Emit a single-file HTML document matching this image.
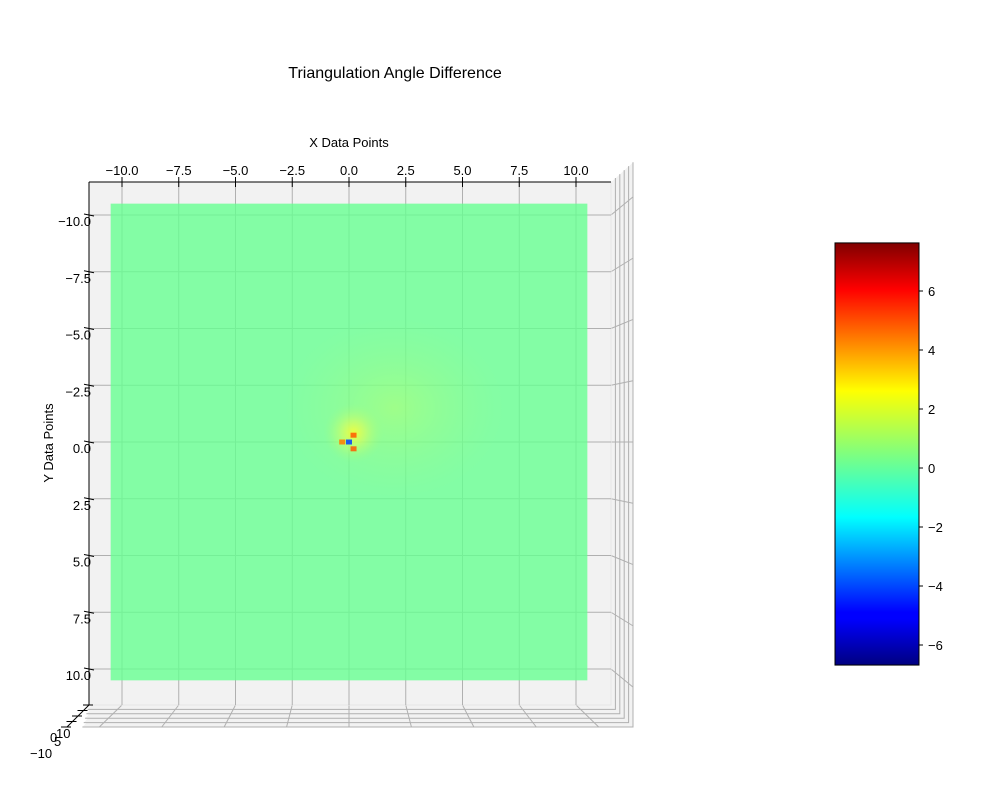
<!DOCTYPE html>
<html><head><meta charset="utf-8"><style>
html,body{margin:0;padding:0;background:#fff;}
svg{display:block;font-family:"Liberation Sans",DejaVu Sans,sans-serif;}
</style></head><body>
<svg id="chart" width="1000" height="800" viewBox="0 0 1000 800">
<defs>
<linearGradient id="jet" x1="0" y1="1" x2="0" y2="0">
<stop offset="0" stop-color="#000080"/><stop offset="0.11" stop-color="#0000ff"/><stop offset="0.125" stop-color="#0000ff"/>
<stop offset="0.35" stop-color="#00ffff"/><stop offset="0.65" stop-color="#ffff00"/><stop offset="0.89" stop-color="#ff0000"/><stop offset="1" stop-color="#800000"/>
</linearGradient>
<radialGradient id="glow"><stop offset="0" stop-color="#ffff30" stop-opacity="0.85"/><stop offset="0.4" stop-color="#e8ff50" stop-opacity="0.5"/><stop offset="1" stop-color="#a0ff80" stop-opacity="0"/></radialGradient>
<radialGradient id="glow2"><stop offset="0" stop-color="#c8ff60" stop-opacity="0.4"/><stop offset="1" stop-color="#a0ff80" stop-opacity="0"/></radialGradient>
</defs>
<text x="395" y="78" font-size="16" text-anchor="middle">Triangulation Angle Difference</text>
<g id="axes"></g>
<g id="cbar"></g>
</svg>
<script>
const xTicks=[-10,-7.5,-5,-2.5,0,2.5,5,7.5,10];
const yTicks=[-10,-7.5,-5,-2.5,0,2.5,5,7.5,10];
const cbTicks=[-6,-4,-2,0,2,4,6];
const cbRange=[-6.68,7.63];
const surfaceExtent=[-10.5,10.5];
const baseValue=0.1;
const hotspotX=[-0.3,0.2,0.2,0];
const hotspotY=[0,-0.3,0.3,0];
const hotspotV=[4.5,5.0,5.0,-4];
const NS="http://www.w3.org/2000/svg";
const X=v=>349+v*22.7, Y=v=>442+v*22.7;
const CB=v=>291-(v-6)*29.5;
function el(t,a,p){const e=document.createElementNS(NS,t);for(const k in a)e.setAttribute(k,a[k]);p.appendChild(e);return e;}
function jet(t){t=Math.max(0,Math.min(1,t));
 const r=t<0.35?0:t<0.66?(t-0.35)/0.31:t<0.89?1:1-(t-0.89)/0.22;
 const g=t<0.125?0:t<0.375?(t-0.125)/0.25:t<0.64?1:t<0.91?1-(t-0.64)/0.27:0;
 const b=t<0.11?0.5+t/0.22:t<0.34?1:t<0.65?1-(t-0.34)/0.31:0;
 return `rgb(${Math.round(r*255)},${Math.round(g*255)},${Math.round(b*255)})`;}
const norm=v=>(v-cbRange[0])/(cbRange[1]-cbRange[0]);
const ax=document.getElementById('axes');
const gc="#b0b0b0";
for(let i=5;i>=1;i--){const o=i*4.4;
 let l=el('polyline',{points:`${611+o},${182-o*0.9} ${611+o},${705+o} ${89-o*0.3},${705+o}`,fill:'#f2f2f2',stroke:gc,'stroke-width':1},ax);
 
 }
xTicks.forEach(v=>{const x=X(v);let l=el('line',{x1:x,y1:705,x2:x+(x-349)*0.1,y2:727,stroke:gc},ax);
 
 });
yTicks.forEach(v=>{const y=Y(v);let l=el('line',{x1:611,y1:y,x2:633,y2:y+(y-442)*0.08,stroke:gc},ax);
 
 });
let pane=el('rect',{x:89,y:182,width:522,height:523,fill:'#f2f2f2',stroke:'#e6e6e6'},ax);


xTicks.forEach(v=>{let l=el('line',{x1:X(v),y1:182,x2:X(v),y2:705,stroke:gc},ax);
 
 });
yTicks.forEach(v=>{let l=el('line',{x1:89,y1:Y(v),x2:611,y2:Y(v),stroke:gc},ax);
 
 });
let s=el('rect',{x:X(surfaceExtent[0]),y:Y(surfaceExtent[0]),width:X(surfaceExtent[1])-X(surfaceExtent[0]),height:Y(surfaceExtent[1])-Y(surfaceExtent[0]),fill:jet(norm(baseValue)),'fill-opacity':0.8},ax);


let g2=el('ellipse',{cx:X(2),cy:Y(-1.5),rx:110,ry:90,fill:'url(#glow2)'},ax);


let gl=el('ellipse',{cx:X(0.2),cy:Y(-0.4),rx:30,ry:30,fill:'url(#glow)'},ax);


hotspotV.forEach((v,i)=>{let c=el('rect',{x:X(hotspotX[i])-3,y:Y(hotspotY[i])-2.5,width:6,height:5,fill:jet(norm(v)),'fill-opacity':0.85},ax);
 
 });
el('line',{x1:89,y1:182,x2:611,y2:182,stroke:'#000'},ax);
el('line',{x1:89,y1:182,x2:89,y2:705,stroke:'#000'},ax);
xTicks.forEach(v=>{el('line',{x1:X(v),y1:177,x2:X(v),y2:187,stroke:'#000'},ax);
 let t=el('text',{x:X(v),y:175,'font-size':13,'text-anchor':'middle'},ax);
 t.textContent=(v<0?'−':'')+Math.abs(v).toFixed(1);
 
 });
yTicks.forEach(v=>{el('line',{x1:84,y1:Y(v)-1,x2:94,y2:Y(v)+1,stroke:'#000'},ax);
 let t=el('text',{x:91,y:Y(v)+11,'font-size':13,'text-anchor':'end'},ax);t.textContent=(v<0?'−':'')+Math.abs(v).toFixed(1);
 
 });
let xl=el('text',{x:349,y:147,'font-size':13,'text-anchor':'middle'},ax);xl.textContent='X Data Points';


let yl=el('text',{x:53,y:443,'font-size':13,'text-anchor':'middle',transform:'rotate(-90 53 443)'},ax);yl.textContent='Y Data Points';


el('line',{x1:89,y1:705,x2:67,y2:727,stroke:'#000'},ax);
[0,1,2,3,4].forEach(i=>el('line',{x1:89-i*5.5-6,y1:705+i*5.5,x2:89-i*5.5+4,y2:705+i*5.5,stroke:'#000'},ax));
[['10',56,738],['5',54,746],['0',50,742],['−10',30,758]].forEach(a=>{let t=el('text',{x:a[1],y:a[2],'font-size':13},ax);t.textContent=a[0];
 
 });
const cb=document.getElementById('cbar');
let cr=el('rect',{x:835,y:CB(cbRange[1]),width:84,height:CB(cbRange[0])-CB(cbRange[1]),fill:'url(#jet)',stroke:'#000'},cb);


cbTicks.forEach(v=>{el('line',{x1:919,y1:CB(v),x2:923,y2:CB(v),stroke:'#000'},cb);
 let t=el('text',{x:928,y:CB(v)+5,'font-size':13},cb);t.textContent=(v<0?'−':'')+Math.abs(v);
 
 });
</script>
</body></html>
